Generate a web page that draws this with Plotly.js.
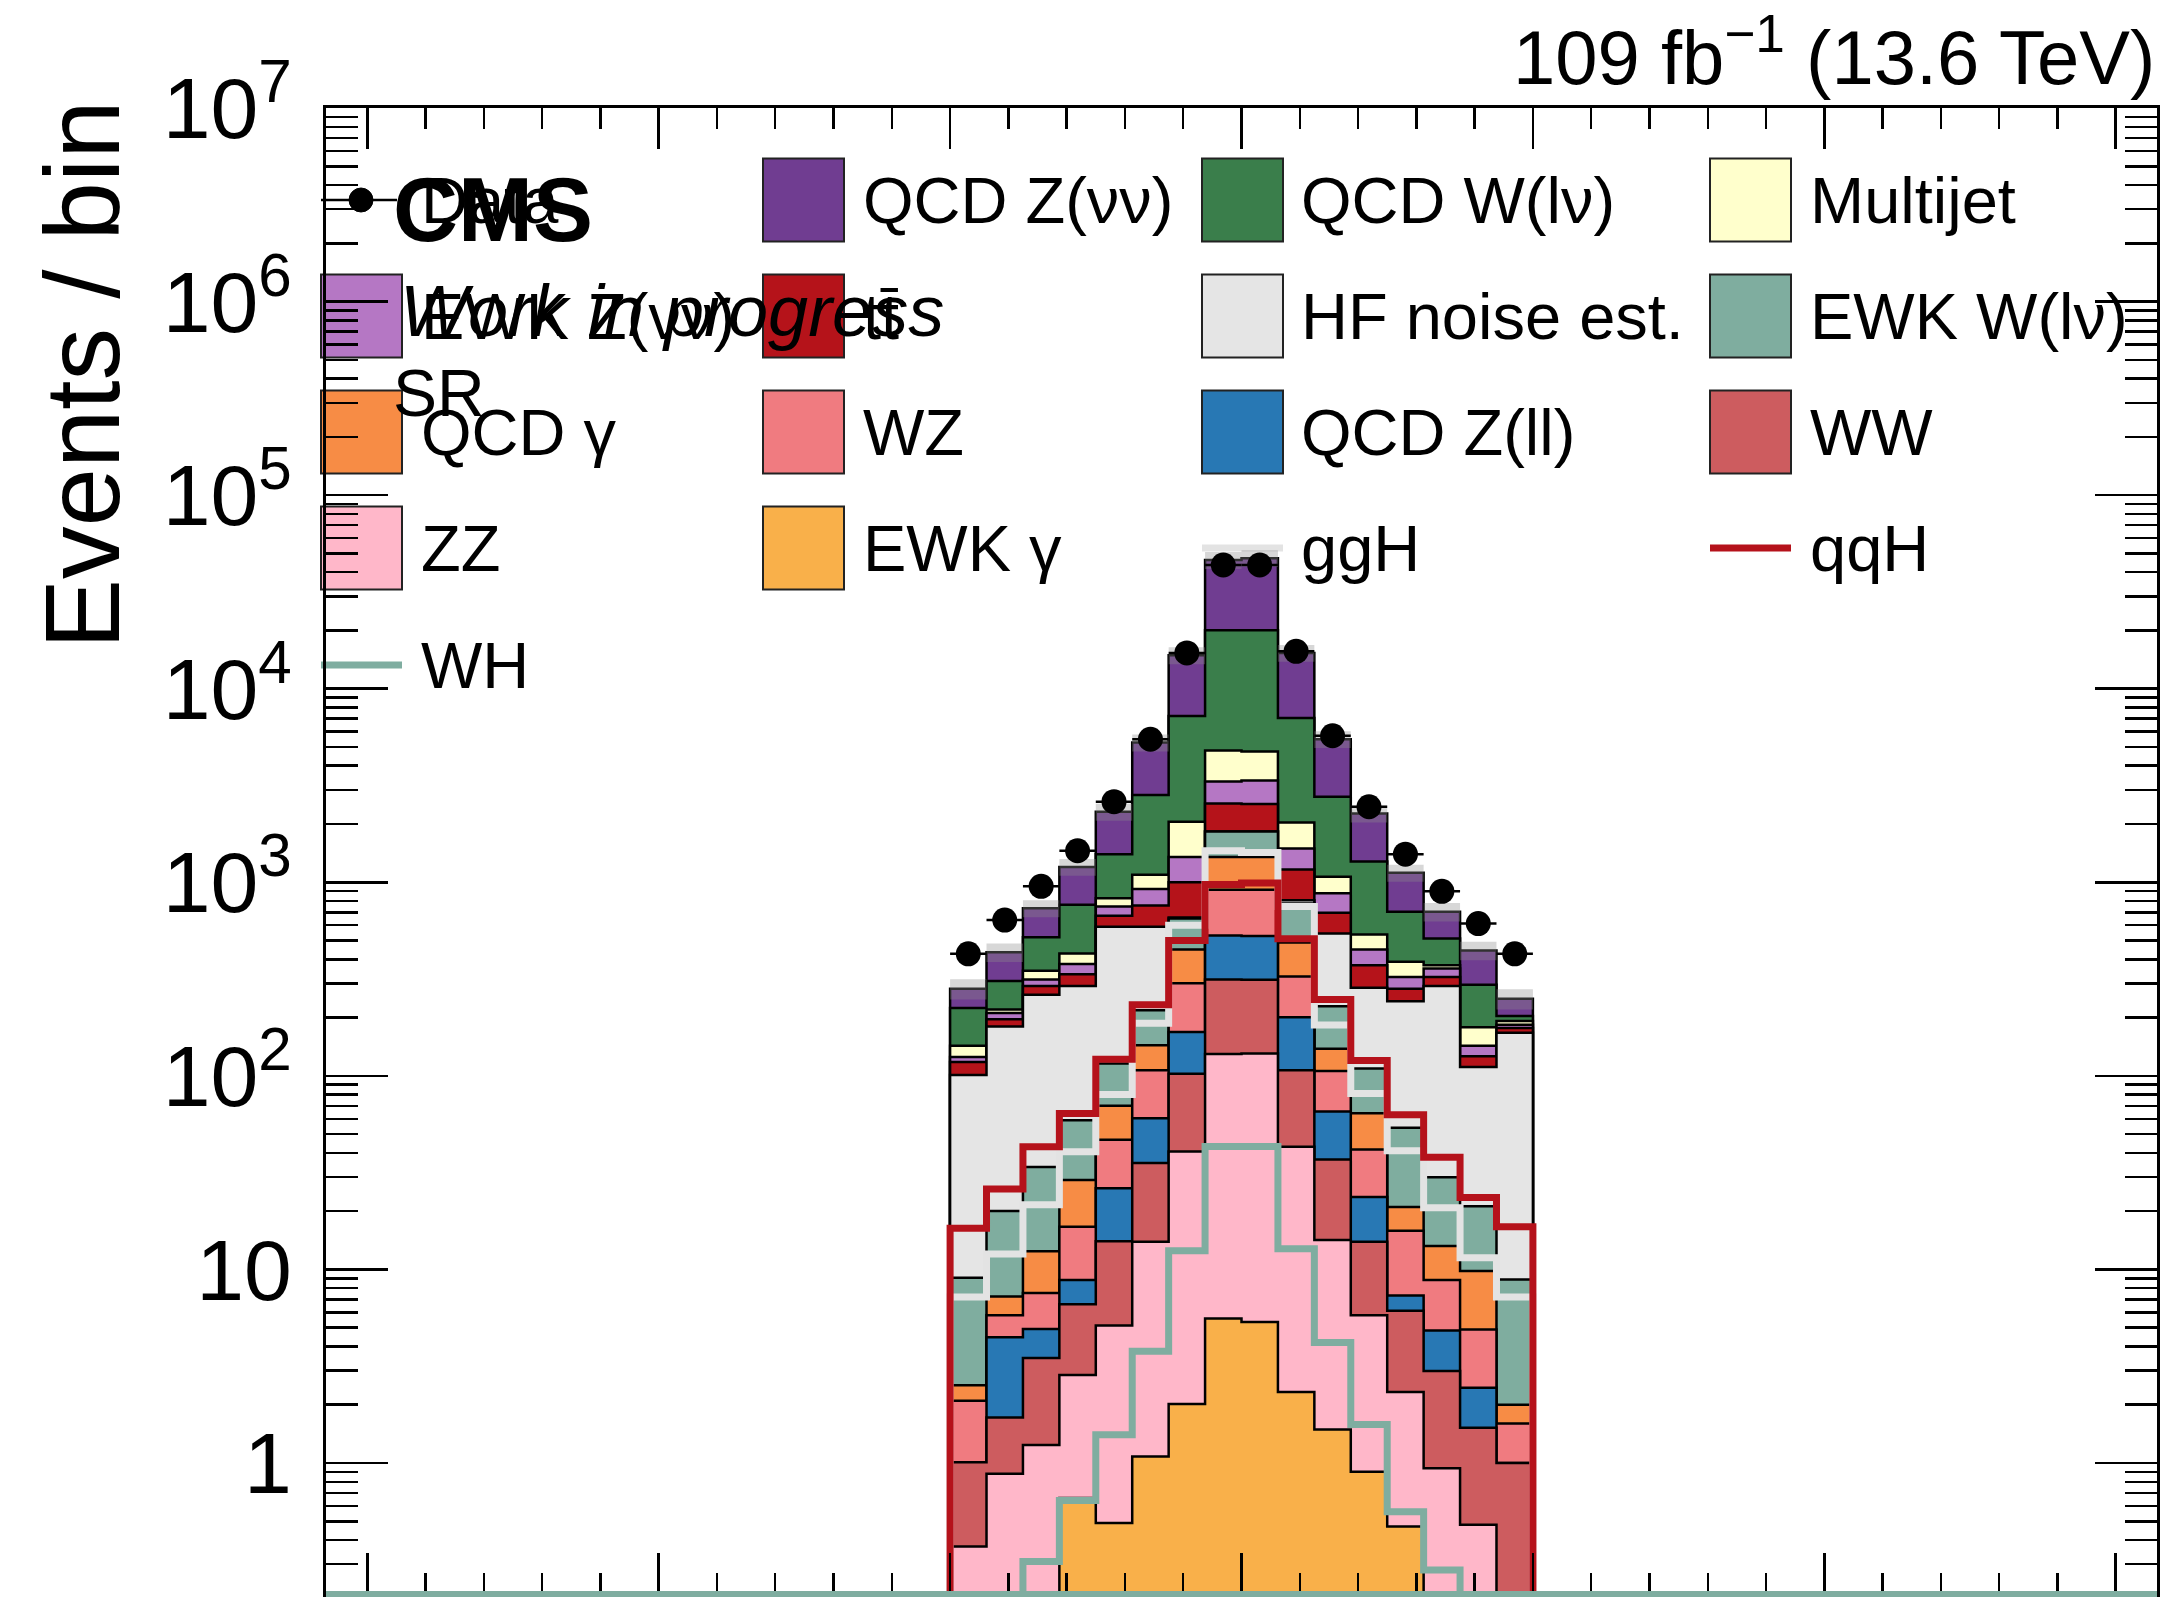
<!DOCTYPE html>
<html>
<head>
<meta charset="utf-8">
<script src="https://cdn.plot.ly/plotly-3.0.1.min.js"></script>
<style>html,body{margin:0;padding:0;background:#fff;}#chart{width:2177px;height:1599px;}</style>
</head>
<body>
<div id="chart"></div>
<script>
// ---------------- data ----------------
const binEdges = [-1,-0.875,-0.75,-0.625,-0.5,-0.375,-0.25,-0.125,0,0.125,0.25,0.375,0.5,0.625,0.75,0.875,1];

// stacked backgrounds, bottom -> top
const ewkGamma = [0.05,0.1,0.15,0.66,0.49,1.08,2.02,5.57,5.35,2.33,1.49,0.90,0.47,0.15,0.1,0.05];
const zz       = [0.32,0.78,1.09,2.19,4.64,12.8,38.6,124,125,40.7,12.7,4.9,1.86,0.79,0.38,0.13];
const ww       = [0.64,0.84,2.25,3.75,8.87,21.6,62,185,183,64,22.8,8.1,3.78,2.05,1.04,0.82];
const qcdZll   = [0,2.74,1.44,2.21,12.3,24.9,66,217,215,94,28.5,9.8,1.22,1.84,0.93,0];
const wz       = [1.09,1.33,2.62,7.8,20.4,46.6,132,384,388,125,40.5,18.0,8.5,3.98,2.44,0.6];
const qcdGamma = [0.42,1.45,4.85,12.4,23.3,37,149,436,436,162,32,22.4,5.2,4.4,4.93,0.4];
const ewkWlv   = [6.53,12.8,21.4,29.9,46,74,200,477,477,290,91,45,32.9,16.7,11.4,6.87];
const hfNoise  = [92,160,229,232,473,371,8,3,3,30,314,176,189,261,90,158];
const ttbar    = [17,16,28,44,83,169,343,721,706,356,154,88,39,33,15,10];
const ewkZvv   = [7,15,24,43,77,165,350,766,822,329,182,77,42,35,17,7];
const multijet = [18,9,34,51,79,172,703,1477,1374,546,188,88,65,14,35,8];
const qcdWlv   = [81,89,172,337,569,1731,5170,15230,15320,5028,1701,741,316,139,117,12];
const qcdZvv   = [58,126,213,435,914,2446,7650,26190,27150,8230,2716,986,414,193,149,46];

// relative uncertainty on the total background
const bkgUncRel = [0.12,0.11,0.10,0.10,0.10,0.10,0.10,0.10,0.10,0.10,0.10,0.10,0.10,0.11,0.11,0.12];

// signals (lines)
const ggH = [7.2,12.0,21.6,40.6,80,187,600,1455,1426,749,183,81,41,20.8,11.5,7.2];
const qqH = [16.3,26,43,64,122,233,501,973,993,511,248,120,63,38,23.5,16.6];
const WH  = [0.08,0.15,0.31,0.64,1.40,3.78,12.5,43.2,43.2,12.8,4.19,1.58,0.56,0.28,0.12,0.07];

// observed data
const dataObs = [427,638,953,1455,2608,5484,15300,43550,43550,15600,5715,2455,1397,898,612,427];

// y-axis tick labels
const yTickVals = [1,10,100,1e3,1e4,1e5,1e6,1e7];
const yTickText = ['1','10','10<sup>2</sup>','10<sup>3</sup>','10<sup>4</sup>','10<sup>5</sup>','10<sup>6</sup>','10<sup>7</sup>'];

// ---------------- styling ----------------
const FONT = 'Liberation Sans, Arial, Helvetica, sans-serif';
const components = [
  {name:'EWK γ',         vals:ewkGamma, color:'#f9b04a'},
  {name:'ZZ',            vals:zz,       color:'#ffb7c9'},
  {name:'WW',            vals:ww,       color:'#cd5c5f'},
  {name:'QCD Z(ll)',     vals:qcdZll,   color:'#2878b4'},
  {name:'WZ',            vals:wz,       color:'#f07b80'},
  {name:'QCD γ',         vals:qcdGamma, color:'#f78c45'},
  {name:'EWK W(lν)',     vals:ewkWlv,   color:'#7fad9f'},
  {name:'HF noise est.', vals:hfNoise,  color:'#e5e5e5'},
  {name:'tt̄',            vals:ttbar,    color:'#b5131a'},
  {name:'EWK Z(νν)',     vals:ewkZvv,   color:'#b577c4'},
  {name:'Multijet',      vals:multijet, color:'#ffffcc'},
  {name:'QCD W(lν)',     vals:qcdWlv,   color:'#3a7e4b'},
  {name:'QCD Z(νν)',     vals:qcdZvv,   color:'#703d91'}
];
const colorOf = {}; components.forEach(c => colorOf[c.name] = c.color);
const GGH_COLOR = '#e3e3e3', QQH_COLOR = '#b5121b', WH_COLOR = '#7fada0';

const nb = binEdges.length - 1;
const LOW = 1e-2; // below the visible range, closes outlines to the bottom

function stepXY(vals) {
  const x = [binEdges[0]], y = [LOW];
  for (let i = 0; i < nb; i++) { x.push(binEdges[i]); y.push(vals[i]); }
  x.push(binEdges[nb]); y.push(vals[nb-1]);
  x.push(binEdges[nb]); y.push(LOW);
  return {x, y};
}
function stepOpen(vals) {
  const x = [], y = [];
  for (let i = 0; i < nb; i++) { x.push(binEdges[i]); y.push(vals[i]); }
  x.push(binEdges[nb]); y.push(vals[nb-1]);
  return {x, y};
}

// cumulative sums
const cum = [];
components.forEach((c, k) => {
  cum.push(c.vals.map((v, i) => v + (k > 0 ? cum[k-1][i] : 0)));
});
const total = cum[cum.length-1];

const traces = [];
for (let k = components.length - 1; k >= 0; k--) {
  const s = stepXY(cum[k]);
  traces.push({x:s.x, y:s.y, type:'scatter', mode:'lines',
    line:{shape:'hv', color:'#000', width:2.5},
    fill:'toself', fillcolor:components[k].color, hoverinfo:'skip', showlegend:false});
}
// uncertainty band
const lo = stepOpen(total.map((t,i) => t*(1-bkgUncRel[i])));
const up = stepOpen(total.map((t,i) => t*(1+bkgUncRel[i])));
traces.push({x:lo.x, y:lo.y, type:'scatter', mode:'lines', line:{shape:'hv', width:0, color:'rgba(0,0,0,0)'}, hoverinfo:'skip', showlegend:false});
traces.push({x:up.x, y:up.y, type:'scatter', mode:'lines', line:{shape:'hv', width:0, color:'rgba(0,0,0,0)'},
  fill:'tonexty', fillcolor:'rgba(140,140,140,0.35)', hoverinfo:'skip', showlegend:false});

// signal lines
[[ggH, GGH_COLOR],[qqH, QQH_COLOR],[WH, WH_COLOR]].forEach(([v,col]) => {
  const s = stepXY(v);
  traces.push({x:s.x, y:s.y, type:'scatter', mode:'lines', line:{shape:'hv', color:col, width:7}, hoverinfo:'skip', showlegend:false});
});

// data
const centers = dataObs.map((_, i) => 0.5*(binEdges[i]+binEdges[i+1]));
traces.push({x:centers, y:dataObs, type:'scatter', mode:'markers',
  marker:{color:'#000', size:25},
  error_x:{type:'constant', value:0.0625, width:0, thickness:2.5, color:'#000'},
  error_y:{type:'sqrt', width:0, thickness:2.5, color:'#000'},
  hoverinfo:'skip', showlegend:false});

// ---------------- layout ----------------
const L = 326, R = 2157, T = 108, B = 1594;
const P = X => (X - L) / (R - L);
const Q = Y => (B - Y) / (B - T);

const minorVals = [];
for (let e = -1; e < 7; e++) for (let d = 2; d <= 9; d++) {
  const v = d * Math.pow(10, e);
  if (v > 0.2105 && v < 1e7) minorVals.push(v);
}

const shapes = [];
const annotations = [];

function ann(text, X, Y, size, opts) {
  annotations.push(Object.assign({text, x:P(X), y:Q(Y), xref:'paper', yref:'paper',
    showarrow:false, xanchor:'left', yanchor:'middle',
    font:{family:FONT, size, color:'#000'}}, opts || {}));
}

// legend
const legendEntries = [
  ['Data','data'], ['QCD Z(νν)','box'], ['QCD W(lν)','box'], ['Multijet','box'],
  ['EWK Z(νν)','box'], ['tt̄','box'], ['HF noise est.','box'], ['EWK W(lν)','box'],
  ['QCD γ','box'], ['WZ','box'], ['QCD Z(ll)','box'], ['WW','box'],
  ['ZZ','box'], ['EWK γ','box'], ['ggH','line', GGH_COLOR], ['qqH','line', QQH_COLOR],
  ['WH','line', WH_COLOR]
];
const rowY = [200, 316, 432, 548, 665];
const colBox = [321, 763, 1202, 1710];
const colText = [419, 861, 1299, 1808];
const BOXW = 81, BOXH = 83;
legendEntries.forEach((e, i) => {
  const r = Math.floor(i/4), c = i % 4;
  const yc = rowY[r], x0 = colBox[c];
  if (e[1] === 'box') {
    shapes.push({type:'rect', xref:'paper', yref:'paper', layer:'below',
      x0:P(x0), x1:P(x0+BOXW), y0:Q(yc+BOXH/2), y1:Q(yc-BOXH/2),
      fillcolor:colorOf[e[0]], line:{color:'#222', width:2}});
  } else if (e[1] === 'line') {
    shapes.push({type:'line', xref:'paper', yref:'paper', layer:'below',
      x0:P(x0), x1:P(x0+BOXW), y0:Q(yc), y1:Q(yc), line:{color:e[2], width:7}});
  } else {
    shapes.push({type:'line', xref:'paper', yref:'paper', layer:'below',
      x0:P(x0), x1:P(x0+BOXW-5), y0:Q(yc), y1:Q(yc), line:{color:'#000', width:2.5}});
    shapes.push({type:'circle', xref:'paper', yref:'paper', layer:'below',
      x0:P(x0+40-12), x1:P(x0+40+12), y0:Q(yc+12), y1:Q(yc-12), fillcolor:'#000', line:{color:'#000', width:1}});
  }
  ann(e[0], colText[c], yc, 65);
});

// WH histogram baseline along the bottom of the frame
shapes.push({type:'line', xref:'paper', yref:'paper', layer:'above', x0:0, x1:1, y0:0, y1:0,
  line:{color:WH_COLOR, width:6}});

// texts
ann('109 fb<sup>−1</sup> (13.6 TeV)', 2157, 52, 76, {xanchor:'right'});
ann('<b>CMS</b>', 391, 210, 90);
ann('<i>Work in progress</i>', 398, 311, 72);
ann('SR', 391, 393, 66);
ann('Events / bin', 83, 375, 105, {xanchor:'center', textangle:-90});

const layout = {
  width:2177, height:1599,
  margin:{l:L, r:2177-R, t:T, b:1599-B, pad:0},
  paper_bgcolor:'#fff', plot_bgcolor:'#fff',
  showlegend:false,
  font:{family:FONT, color:'#000'},
  xaxis:{range:[-Math.PI, Math.PI], showgrid:false, zeroline:false,
    showline:true, linecolor:'#000', linewidth:3, mirror:'ticks',
    ticks:'inside', ticklen:41, tickwidth:2.5, tickcolor:'#000',
    tickmode:'linear', tick0:0, dtick:1, showticklabels:false,
    minor:{ticks:'inside', ticklen:21, tickwidth:2.5, tickcolor:'#000', tick0:0, dtick:0.2, showgrid:false}},
  yaxis:{type:'log', range:[Math.log10(0.2105), 7], showgrid:false, zeroline:false,
    showline:true, linecolor:'#000', linewidth:3, mirror:'ticks',
    ticks:'inside', ticklen:62, tickwidth:2.5, tickcolor:'#000',
    tickmode:'array', tickvals:yTickVals, ticktext:yTickText,
    tickfont:{family:FONT, size:86, color:'#000'}, ticklabelstandoff:14,
    minor:{tickmode:'array', tickvals:minorVals, ticks:'inside', ticklen:32, tickwidth:2.5, tickcolor:'#000', showgrid:false}},
  shapes, annotations
};

Plotly.newPlot('chart', traces, layout, {staticPlot:true, displayModeBar:false});
</script>
</body>
</html>
